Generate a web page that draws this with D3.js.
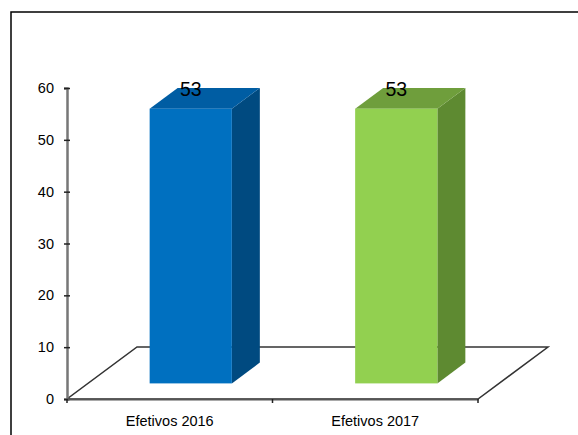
<!DOCTYPE html>
<html>
<head>
<meta charset="utf-8">
<script src="https://cdn.jsdelivr.net/npm/d3@7"></script>
<style>
  html, body { margin: 0; padding: 0; background: #fff; }
  svg { display: block; }
  text { font-family: "Liberation Sans", Arial, sans-serif; }
</style>
</head>
<body>
<script>
const categories = ["Efetivos 2016", "Efetivos 2017"];
const values = [53, 53];
const yTicks = [0, 10, 20, 30, 40, 50, 60];
const frontColors = ["#0070C0", "#92D050"];
const topColors = ["#005DA3", "#6F9E3C"];
const sideColors = ["#004A80", "#5E8A31"];

const W = 578, H = 435;
const svg = d3.select("body").append("svg").attr("width", W).attr("height", H);

// outer frame
svg.append("rect").attr("x", 11).attr("y", 12).attr("width", W).attr("height", H)
  .attr("fill", "none").attr("stroke", "#000").attr("stroke-width", 1.5);

const x0 = 67, x1 = 478;
const y = d3.scaleLinear().domain([0, 60]).range([399, 88]);
const x = d3.scaleBand().domain(categories).range([x0, x1]).paddingInner(0).paddingOuter(0);

// depth of floor
const DX = 70, DY = 52;
const g = svg.append("g");

// floor
const floor = [[x0, y(0)], [x1, y(0)], [x1 + DX, y(0) - DY], [x0 + DX, y(0) - DY]];
g.append("path")
  .attr("d", d3.line()(floor) + "Z")
  .attr("fill", "none").attr("stroke", "#333").attr("stroke-width", 1.5);

// y axis
const yAxis = d3.axisLeft(y).tickValues(yTicks).tickSize(3).tickPadding(10);
const ya = svg.append("g").attr("transform", `translate(${x0},0)`).call(yAxis);
ya.select(".domain").attr("stroke", "#777").attr("stroke-width", 2.5);
ya.selectAll(".tick line").attr("stroke", "#222").attr("stroke-width", 1.5).attr("x2", 3).attr("x1", -3);
ya.selectAll(".tick text").attr("font-size", 14.5).attr("fill", "#000")
  .attr("font-family", "Liberation Sans, Arial, sans-serif");

// x axis
const xa = svg.append("g").attr("transform", `translate(0,${y(0)})`)
  .call(d3.axisBottom(x).tickSize(0).tickPadding(17));
xa.select(".domain").attr("stroke", "#555").attr("stroke-width", 2);
xa.selectAll(".tick text").attr("font-size", 14.5).attr("fill", "#000")
  .attr("font-family", "Liberation Sans, Arial, sans-serif");
// tick marks at band boundaries
const bounds = [x0, x1].concat(categories.slice(1).map(c => x(c)));
xa.selectAll(".btick").data(bounds).enter().append("line")
  .attr("x1", d => d).attr("x2", d => d).attr("y1", 0).attr("y2", 4)
  .attr("stroke", "#222").attr("stroke-width", 1.5);

// bars
const f0 = 0.3, fd = 0.4;
const barW = x.bandwidth() * 0.4;
const bars = svg.append("g");
categories.forEach((c, i) => {
  const cx = x(c) + x.bandwidth() / 2 + f0 * DX;
  const by = y(0) - f0 * DY;
  const h = y(0) - y(values[i]);
  const ty = by - h;
  const xl = cx - barW / 2, xr = cx + barW / 2;
  const ddx = fd * DX, ddy = fd * DY;
  // side
  bars.append("path").attr("d", d3.line()([[xr, by], [xr + ddx, by - ddy], [xr + ddx, ty - ddy], [xr, ty]]) + "Z")
    .attr("fill", sideColors[i]);
  // top
  bars.append("path").attr("d", d3.line()([[xl, ty], [xl + ddx, ty - ddy], [xr + ddx, ty - ddy], [xr, ty]]) + "Z")
    .attr("fill", topColors[i]);
  // front
  bars.append("rect").attr("x", xl).attr("y", ty).attr("width", barW).attr("height", h)
    .attr("fill", frontColors[i]);
  // label
  bars.append("text").attr("x", cx).attr("y", ty - 13)
    .attr("text-anchor", "middle").attr("font-size", 19.5).attr("fill", "#000")
    .text(values[i]);
});
</script>
</body>
</html>
